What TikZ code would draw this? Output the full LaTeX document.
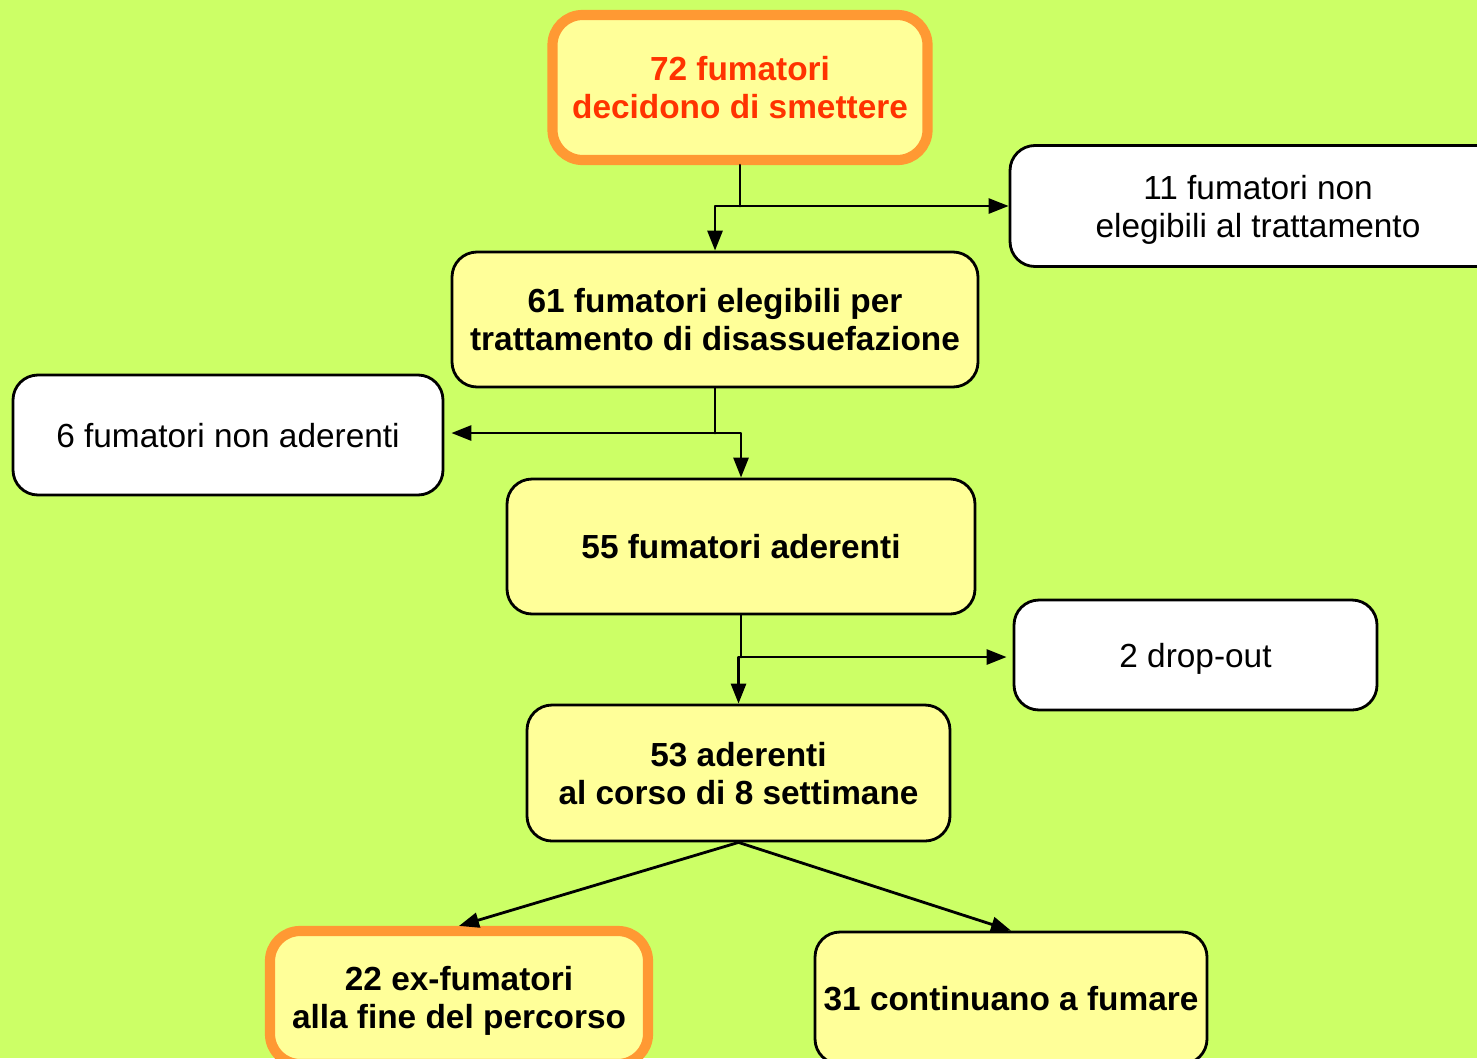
\documentclass[tikz,border=0pt]{standalone}
\usepackage{fontspec}
\setmainfont{Liberation Sans}
\usepackage{tikz}
\usetikzlibrary{arrows.meta}

\definecolor{sfondo}{RGB}{204,255,102}
\definecolor{giallo}{RGB}{255,255,153}
\definecolor{arancio}{RGB}{255,153,51}
\definecolor{rosso}{RGB}{255,51,0}

\begin{document}
\begin{tikzpicture}[line cap=round,line join=round,>={Triangle[length=2mm,width=1.5mm]},x=0.1mm,y=-0.1mm,
	box/.style={draw=black,line width=0.8pt,rounded corners=2.5mm,align=center,
		font=\fontsize{9.5}{10.8}\selectfont,inner sep=0pt,text depth=0pt},
	bianco/.style={box,fill=white},
	giallobox/.style={box,fill=giallo,font=\fontsize{9.5}{10.8}\selectfont\bfseries},
	evidenza/.style={giallobox,draw=arancio,line width=2.9pt,rounded corners=3mm},
	freccia/.style={->,line width=0.8pt}]
		\fill[color=sfondo] (0,0) rectangle (1477,1058);
		\useasboundingbox (0,0) rectangle (1477,1058);
		
		\node[evidenza,text=rosso,minimum width=37.5mm,minimum height=14.5mm] (start) at (740,87.5) {72 fumatori\\decidono di smettere};
		\node[bianco,minimum width=49.6mm,minimum height=12.1mm] (nonelig) at (1258,206) {11 fumatori non\\elegibili al trattamento};
		\node[giallobox,minimum width=52.6mm,minimum height=13.5mm] (elig) at (715,319.5) {61 fumatori elegibili per\\trattamento di disassuefazione};
		\node[bianco,minimum width=43mm,minimum height=12mm] (nonad) at (228,435) {6 fumatori non aderenti};
		\node[giallobox,minimum width=46.8mm,minimum height=13.5mm] (ader) at (741,546.5) {55 fumatori aderenti};
		\node[bianco,minimum width=36.3mm,minimum height=11mm] (drop) at (1195.5,655) {2 drop-out};
		\node[giallobox,minimum width=42.3mm,minimum height=13.6mm] (corso) at (738.5,773) {53 aderenti\\al corso di 8 settimane};
		\node[evidenza,minimum width=37.8mm,minimum height=13.3mm] (exfum) at (459,997.5) {22 ex-fumatori\\alla fine del percorso};
		\node[giallobox,minimum width=39.2mm,minimum height=13.2mm] (cont) at (1011,998) {31 continuano a fumare};
		
		\coordinate (j1) at (740,206);
		\coordinate (j2) at (715,433);
		\coordinate (j3) at (741,657);
		
		\draw[line width=0.8pt] (start.south) -- (j1);
		\draw[freccia] (j1) -- (nonelig.west);
		\draw[freccia] (j1) -| (elig.north);
		
		\draw[line width=0.8pt] (elig.south) -- (j2);
		\draw[freccia,shorten >=0.7mm] (j2) -- (nonad.east |- j2);
		\draw[freccia] (j2) -| (ader.north);
		
		\draw[line width=0.8pt] (ader.south) -- (j3);
		\draw[freccia,shorten >=0.6mm] (j3) -- (drop.west |- j3);
		\draw[freccia] (j3) -| (corso.north);
		
		\draw[freccia] (corso.south) -- (exfum.north);
		\draw[freccia] (corso.south) -- (cont.north);
	\end{tikzpicture}
\end{document}
